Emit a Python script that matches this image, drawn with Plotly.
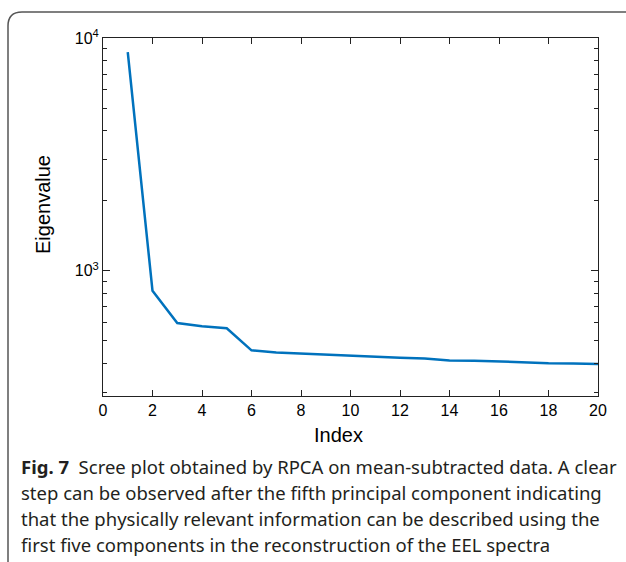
import plotly.graph_objects as go

# Data
index = list(range(1, 21))
eigenvalue = [8700, 820, 596, 578, 566, 455, 446, 441, 435, 433,
              425, 423, 420, 412, 411, 407, 403, 401, 400, 398]
x_ticks = list(range(0, 21, 2))
y_major = [1000, 10000]
y_major_text = ["10<sup>3</sup>", "10<sup>4</sup>"]
y_minor = [300, 400, 500, 600, 700, 800, 900,
           2000, 3000, 4000, 5000, 6000, 7000, 8000, 9000]
caption_lines = [
    "<b>Fig. 7</b>  Scree plot obtained by RPCA on mean-subtracted data. A clear",
    "step can be observed after the fifth principal component indicating",
    "that the physically relevant information can be described using the",
    "first five components in the reconstruction of the EEL spectra",
]

W, H = 626, 562
L, R, T, B = 103, 598, 38, 396


def px(x):
    return (x - L) / (R - L)


def py(y):
    return (B - y) / (B - T)


fig = go.Figure()
fig.add_trace(go.Scatter(x=index, y=eigenvalue, mode="lines",
                         line=dict(color="#0072BD", width=2.5),
                         showlegend=False))

axis_font = dict(family="Liberation Sans, Arial, sans-serif", size=16, color="#000")

fig.update_layout(
    width=W, height=H,
    margin=dict(l=L, r=W - R, t=T, b=H - B),
    paper_bgcolor="white", plot_bgcolor="white",
    xaxis=dict(range=[0, 20], tickvals=x_ticks, ticks="inside", ticklen=6,
               showline=True, linecolor="#222", linewidth=1, mirror="ticks",
               showgrid=False, zeroline=False, tickfont=axis_font,
               tickcolor="#222"),
    yaxis=dict(type="log", range=[2.462, 4], tickvals=y_major,
               ticktext=y_major_text, ticks="inside", ticklen=7,
               showline=True, linecolor="#222", linewidth=1, mirror="ticks",
               showgrid=False, zeroline=False, tickfont=axis_font,
               tickcolor="#222",
               minor=dict(tickvals=y_minor, ticks="inside", ticklen=4,
                          tickcolor="#222", showgrid=False)),
)

title_font = dict(family="Liberation Sans, Arial, sans-serif", size=20, color="#000")
ann = []
ann.append(dict(text="Index", x=px(338), y=py(435), xref="paper", yref="paper",
                xanchor="center", yanchor="middle",
                showarrow=False, font=title_font))
ann.append(dict(text="Eigenvalue", x=px(43), y=py(205), xref="paper", yref="paper",
                xanchor="center", yanchor="middle",
                showarrow=False, textangle=-90, font=title_font))
for i, line in enumerate(caption_lines):
    ann.append(dict(text=line, x=px(19), y=py(466 + 26 * i), xref="paper",
                    yref="paper", xanchor="left", yanchor="middle",
                    showarrow=False,
                    font=dict(family="Noto Sans, Open Sans, sans-serif", size=18.5,
                              color="#231f20")))
fig.update_layout(annotations=ann)

# rounded frame
path = (f"M {px(8)},{py(600)} L {px(8)},{py(26)} "
        f"Q {px(8)},{py(12)} {px(22)},{py(12)} L {px(700)},{py(12)}")
fig.add_shape(type="path", path=path, xref="paper", yref="paper",
              line=dict(color="#555", width=1.5))

fig.write_html("out.html")
